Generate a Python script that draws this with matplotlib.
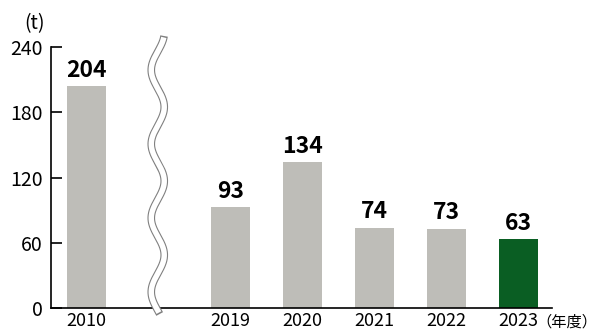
import numpy as np
import matplotlib.pyplot as plt

plt.rcParams['font.family'] = ['Noto Sans CJK JP', 'DejaVu Sans']

years = ['2010', '2019', '2020', '2021', '2022', '2023']
values = [204, 93, 134, 74, 73, 63]
positions = [0, 2, 3, 4, 5, 6]
colors = ['#bebdb8'] * 5 + ['#0a5e23']

fig = plt.figure(figsize=(5.98, 3.32), dpi=100)
ax = fig.add_axes([0.0853, 0.0723, 0.8378, 0.7861])

ax.bar(positions, values, width=0.54, color=colors)
for x, v in zip(positions, values):
    ax.annotate(str(v), (x, v), xytext=(0, 3), textcoords='offset points',
                ha='center', va='bottom', fontsize=16.5, fontweight='bold')

ax.set_xlim(-0.49, 6.47)
ax.set_ylim(0, 240)
ax.set_yticks([0, 60, 120, 180, 240])
ax.set_xticks(positions)
ax.set_xticklabels(years)
ax.tick_params(axis='y', direction='in', length=8, width=1.2, labelsize=14, pad=6)
ax.tick_params(axis='x', length=0, labelsize=13, pad=3)
for s in ['top', 'right']:
    ax.spines[s].set_visible(False)
for s in ['left', 'bottom']:
    ax.spines[s].set_linewidth(1.2)

# wavy break mark (pixel-ish shape converted to data units)
ypx = np.linspace(36, 314, 400)
xpx = 158 - 6.5 * np.cos(2 * np.pi * (ypx - 70) / 74)
xx = (xpx - 86.5) / 72
yy = (308 - ypx) / 1.0875
ax.plot(xx, yy, color='#808080', lw=5.5, solid_capstyle='butt', clip_on=False, zorder=5)
ax.plot(xx[2:-2], yy[2:-2], color='white', lw=3.9, solid_capstyle='butt', clip_on=False, zorder=6)

fig.text(0.040, 0.928, '(t)', fontsize=14, ha='left', va='center')
fig.text(0.999, 0.03, '（年度）', fontsize=11, ha='right', va='center')

fig.savefig('out.png')
